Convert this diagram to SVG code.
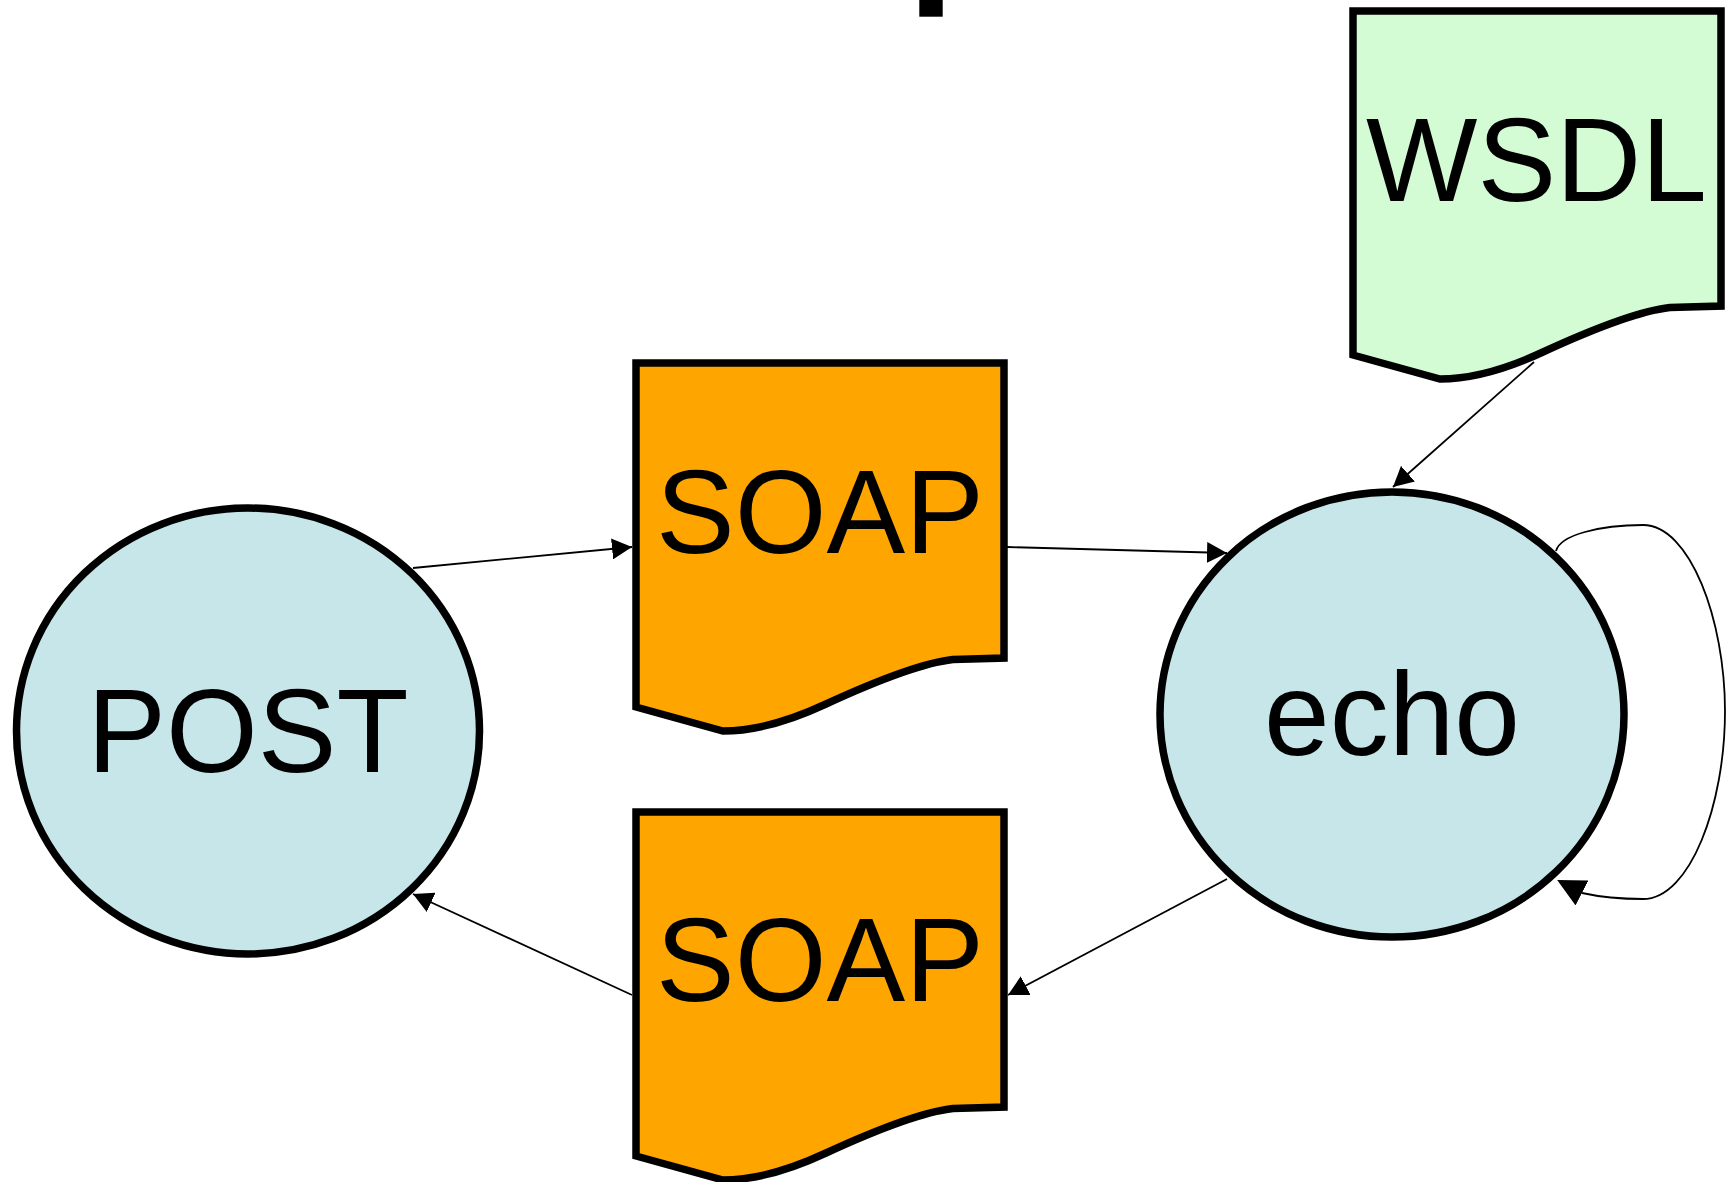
<svg xmlns="http://www.w3.org/2000/svg" width="1729" height="1182" viewBox="0 0 1729 1182">
  <style>
    .node { stroke: #000; stroke-width: 7.5; }
    .state { fill: #c6e6e9; }
    .soap { fill: #ffa500; }
    .wsdl { fill: #d4fcd4; }
    .lbl { font-family: "Liberation Sans", Arial, sans-serif; font-size: 118px; fill: #000; text-anchor: middle; }
    .edge { fill: none; stroke: #000; stroke-width: 1.8; }
  </style>
  <defs>
    <path id="doc" d="M0,0 H368 V295 L317,296.5 C285,300 240,318 190,341 C160,355 125,368 87,368 L0,344 Z"/>
    <marker id="arrow" viewBox="0 0 20 21" refX="20" refY="10.5" markerWidth="20" markerHeight="21" markerUnits="userSpaceOnUse" orient="auto">
      <path d="M0,0 L20,10.5 L0,21 Z" fill="#000"/>
    </marker>
    <marker id="arrowLoop" viewBox="0 0 28 28" refX="0" refY="14" markerWidth="28" markerHeight="28" markerUnits="userSpaceOnUse" orient="207.5">
      <path d="M0,0 L28,14 L0,28 Z" fill="#000"/>
    </marker>
  </defs>

  <rect id="top-mark" x="919.3" y="0" width="23.4" height="16.7" fill="#000"/>

  <g id="connectors">
    <path class="edge" d="M413,568 L632,547" marker-end="url(#arrow)"/>
    <path class="edge" d="M1007,547 L1227,553" marker-end="url(#arrow)"/>
    <path class="edge" d="M1534,362 L1393,487" marker-end="url(#arrow)"/>
    <path class="edge" d="M1227,879 L1008,995" marker-end="url(#arrow)"/>
    <path class="edge" d="M632,995 L413,894" marker-end="url(#arrow)"/>
    <path class="edge" d="M1556,551 C1560,535 1600,525 1643,525 C1690,525 1725,620 1725,711 C1725,805 1690,899 1643,899 C1620,899 1600,897 1582,893" marker-end="url(#arrowLoop)"/>
  </g>

  <g id="node-wsdl">
    <use href="#doc" class="node wsdl" x="1353" y="11"/>
    <text class="lbl" x="1536.5" y="201">WSDL</text>
  </g>

  <g id="node-soap-request">
    <use href="#doc" class="node soap" x="636" y="363"/>
    <text class="lbl" x="820" y="553">SOAP</text>
  </g>

  <g id="node-soap-response">
    <use href="#doc" class="node soap" x="636" y="812"/>
    <text class="lbl" x="820" y="1001">SOAP</text>
  </g>

  <g id="node-post">
    <ellipse class="node state" cx="248" cy="731" rx="231.5" ry="223"/>
    <text class="lbl" x="248" y="772">POST</text>
  </g>

  <g id="node-echo">
    <ellipse class="node state" cx="1392" cy="714.5" rx="232" ry="222.5"/>
    <text class="lbl" x="1392" y="755">echo</text>
  </g>
</svg>
